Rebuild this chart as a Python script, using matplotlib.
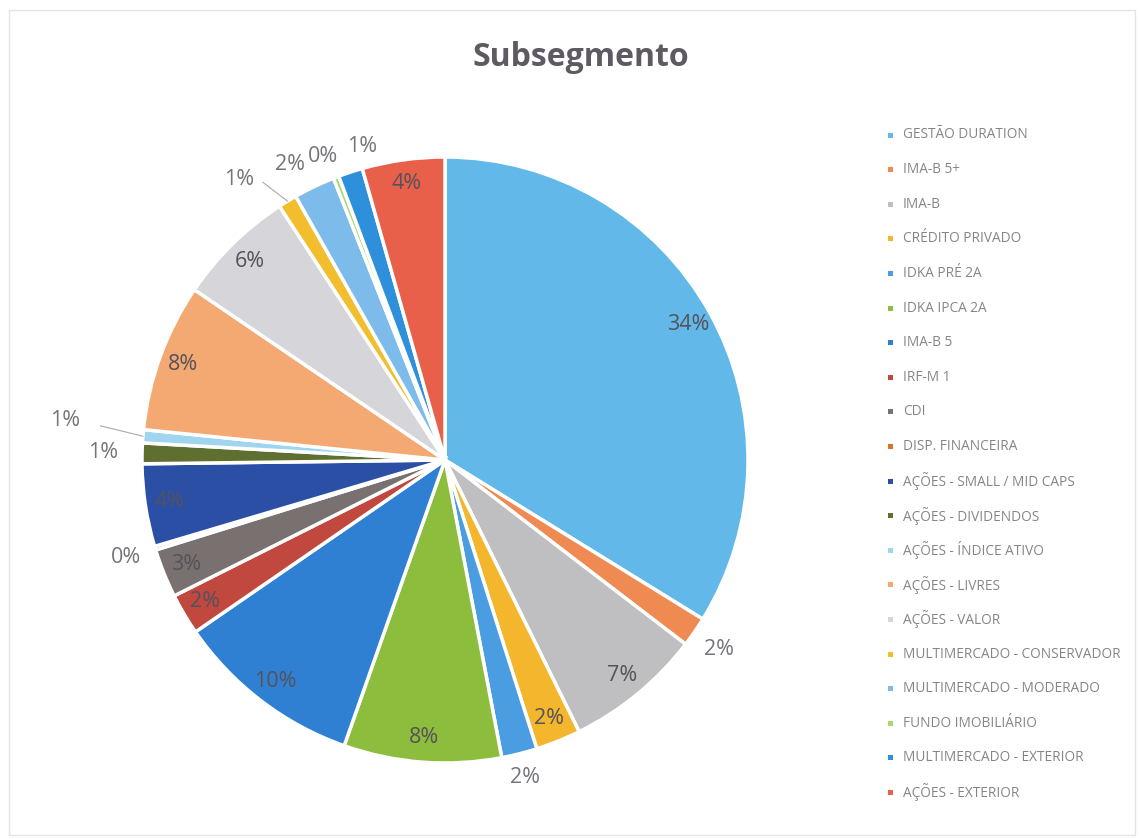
import numpy as np
import matplotlib
matplotlib.use('Agg')
import matplotlib.pyplot as plt
from matplotlib.patches import Rectangle

# data (percent of portfolio), clockwise from 12 o'clock
categories = [
    'GESTÃO DURATION', 'IMA-B 5+', 'IMA-B', 'CRÉDITO PRIVADO', 'IDKA PRÉ 2A',
    'IDKA IPCA 2A', 'IMA-B 5', 'IRF-M 1', 'CDI', 'DISP. FINANCEIRA',
    'AÇÕES - SMALL / MID CAPS', 'AÇÕES - DIVIDENDOS', 'AÇÕES - ÍNDICE ATIVO',
    'AÇÕES - LIVRES', 'AÇÕES - VALOR', 'MULTIMERCADO - CONSERVADOR',
    'MULTIMERCADO - MODERADO', 'FUNDO IMOBILIÁRIO', 'MULTIMERCADO - EXTERIOR',
    'AÇÕES - EXTERIOR',
]
values = [33.8, 1.6, 7.3, 2.4, 1.9, 8.4, 10.0, 2.2, 2.6, 0.2,
          4.4, 1.1, 0.7, 7.9, 6.3, 1.0, 2.2, 0.3, 1.3, 4.4]
colors = ['#62b8e8', '#ee8a52', '#bfbfc2', '#f3b62c', '#4a9de0',
          '#8dbd3c', '#2f80d3', '#c0483e', '#78716f', '#d8742c',
          '#2c4fa6', '#5e6f30', '#9fd5ef', '#f4a872', '#d6d6da',
          '#f2be2e', '#7dbbea', '#a8d870', '#2e8fdb', '#e8604a']

# label placement (Excel "best fit" look): index -> (radius, angle shift in degrees)
outside_labels = {1: (1.1, 0), 4: (1.08, 0), 9: (1.1, 0), 11: (1.13, 0),
                  16: (1.1, 2.1), 17: (1.08, 0.8), 18: (1.07, -3.3)}
# labels that get a leader line
leader_labels = {12: (1.26, -1.5), 15: (1.15, 5.0)}

fs = 15.5
fig = plt.figure(figsize=(11.39, 8.39), dpi=100)
W, H = 1139, 839

# faint chart border
fig.patches.append(Rectangle((9 / W, 4 / H), 1126 / W, 825 / H, transform=fig.transFigure,
                             fill=False, edgecolor='#e4e4e4', linewidth=1))

fig.text(581 / W, 1 - 57 / H, 'Subsegmento', ha='center', va='center',
         fontsize=23, fontweight='bold', color='#5f5a62', family='Open Sans')

# pie axes: center (445, 460) px, radius 303 px
cx, cy, R = 445, 460, 303
half = 345
ax = fig.add_axes([(cx - half) / W, 1 - (cy + half) / H, 2 * half / W, 2 * half / H])

wedges, _ = ax.pie(values, colors=colors, startangle=90, counterclock=False, radius=1,
                   wedgeprops=dict(edgecolor='white', linewidth=2.5))
ax.set_xlim(-half / R, half / R)
ax.set_ylim(-half / R, half / R)
ax.set_aspect('equal')
ax.axis('off')

total = sum(values)
for i, w in enumerate(wedges):
    mid = (w.theta1 + w.theta2) / 2
    ang = np.deg2rad(mid)
    pct = '%d%%' % round(values[i] / total * 100)
    if i in leader_labels:
        r, shift = leader_labels[i]
        la = np.deg2rad(mid + shift)
        tx, ty = r * np.cos(la), r * np.sin(la)
        side = 1 if np.cos(la) < 0 else -1
        # leader line from text edge to slice rim
        ax.plot([tx + side * 0.08, 1.0 * np.cos(ang)], [ty - 0.01, 1.0 * np.sin(ang)],
                color='#aaaaaa', linewidth=0.8)
        ax.text(tx, ty, pct, ha='center', va='center',
                fontsize=fs, color='#77737a', family='Open Sans')
    elif i in outside_labels:
        r, shift = outside_labels[i]
        la = np.deg2rad(mid + shift)
        ax.text(r * np.cos(la), r * np.sin(la), pct, ha='center', va='center',
                fontsize=fs, color='#77737a', family='Open Sans')
    else:
        r = 0.92
        ax.text(r * np.cos(ang), r * np.sin(ang), pct, ha='center', va='center',
                fontsize=fs, color='#55525a', family='Open Sans')

# legend on the right
y0, dy = 135, 34.6
for i, (name, c) in enumerate(zip(categories, colors)):
    y = 1 - (y0 + i * dy) / H
    fig.patches.append(Rectangle((890 / W - 2.5 / W, y - 2.5 / H), 5 / W, 5 / H,
                                 transform=fig.transFigure, facecolor=c, edgecolor='none'))
    fig.text(903 / W, y, name, ha='left', va='center', fontsize=9.8,
             color='#858585', family='Open Sans')

fig.savefig('out.png', dpi=100)
